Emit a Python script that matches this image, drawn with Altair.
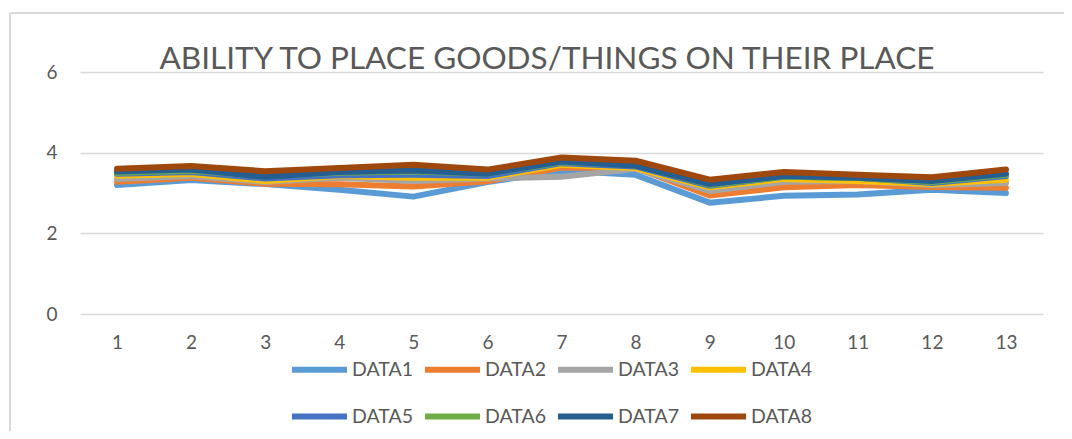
import altair as alt
import pandas as pd

categories = [str(i) for i in range(1, 14)]
series_names = ["DATA1", "DATA2", "DATA3", "DATA4", "DATA5", "DATA6", "DATA7", "DATA8"]
data1 = [3.20, 3.32, 3.22, 3.08, 2.91, 3.27, 3.55, 3.45, 2.76, 2.93, 2.96, 3.08, 3.00]
data2 = [3.28, 3.38, 3.23, 3.22, 3.16, 3.29, 3.63, 3.62, 2.94, 3.14, 3.20, 3.15, 3.13]
data3 = [3.35, 3.42, 3.27, 3.38, 3.30, 3.36, 3.40, 3.60, 3.05, 3.28, 3.30, 3.20, 3.25]
data4 = [3.43, 3.47, 3.30, 3.42, 3.38, 3.38, 3.70, 3.62, 3.14, 3.35, 3.30, 3.22, 3.33]
data5 = [3.48, 3.52, 3.36, 3.44, 3.45, 3.42, 3.74, 3.66, 3.18, 3.40, 3.38, 3.25, 3.42]
data6 = [3.50, 3.55, 3.42, 3.50, 3.53, 3.48, 3.76, 3.70, 3.20, 3.40, 3.37, 3.27, 3.45]
data7 = [3.53, 3.58, 3.40, 3.52, 3.56, 3.48, 3.78, 3.68, 3.22, 3.42, 3.38, 3.30, 3.48]
data8 = [3.60, 3.67, 3.54, 3.62, 3.70, 3.58, 3.88, 3.80, 3.33, 3.52, 3.45, 3.39, 3.58]
colors = ["#5B9BD5", "#ED7D31", "#A5A5A5", "#FFC000", "#4472C4", "#70AD47", "#255E91", "#9E480E"]
title_text = "ABILITY TO PLACE GOODS/THINGS ON THEIR PLACE"

all_series = [data1, data2, data3, data4, data5, data6, data7, data8]
rows = []
for si, (name, vals) in enumerate(zip(series_names, all_series)):
    for ci, (cat, v) in enumerate(zip(categories, vals)):
        rows.append({"cat": cat, "value": v, "series": name, "order": si})
df = pd.DataFrame(rows)

W, H = 963, 242

lines = alt.Chart(df).mark_line(strokeWidth=6, strokeCap="round", strokeJoin="round").encode(
    x=alt.X("cat:O", sort=categories, title=None,
            scale=alt.Scale(type="point", padding=0.5),
            axis=alt.Axis(labelAngle=0, ticks=False, domain=False, grid=False,
                          labelFontSize=19, labelColor="#595959", labelFont="Lato",
                          labelPadding=19)),
    y=alt.Y("value:Q", title=None,
            scale=alt.Scale(domain=[0, 6]),
            axis=alt.Axis(values=[0, 2, 4, 6], ticks=False, domain=False,
                          gridColor="#d9d9d9", gridWidth=1.5,
                          labelFontSize=19, labelColor="#595959", labelFont="Lato",
                          labelPadding=23)),
    color=alt.Color("series:N", sort=series_names,
                    scale=alt.Scale(domain=series_names, range=colors),
                    legend=alt.Legend(title=None, orient="none", legendX=209, legendY=267,
                                      direction="horizontal", columns=4,
                                      symbolType="stroke", symbolSize=3025,
                                      symbolStrokeWidth=6, labelFontSize=19.5,
                                      labelFont="Lato", labelColor="#595959",
                                      labelOffset=2, columnPadding=0, rowPadding=4)),
    detail="series:N",
    order=alt.Order("order:Q"),
)

title = alt.Chart(alt.Data(values=[{}])).mark_text(
    text=title_text, font="Lato", fontSize=31.5, color="#595959",
    align="center", baseline="alphabetic"
).encode(x=alt.value(467), y=alt.value(-3))

frame_top = alt.Chart(alt.Data(values=[{}])).mark_rule(color="#d9d9d9", strokeWidth=2).encode(
    x=alt.value(-70), x2=alt.value(1000), y=alt.value(-59))
frame_left = alt.Chart(alt.Data(values=[{}])).mark_rule(color="#d9d9d9", strokeWidth=2).encode(
    x=alt.value(-70), y=alt.value(-59), y2=alt.value(400))

chart = alt.layer(frame_top, frame_left, lines, title).properties(
    width=W, height=H,
    autosize=alt.AutoSizeParams(type="none"),
    padding={"left": 72, "top": 64, "right": 21, "bottom": 117},
    background="white",
).configure_view(stroke=None)

chart.save("out.html", embed_options={"renderer": "svg", "actions": False})
